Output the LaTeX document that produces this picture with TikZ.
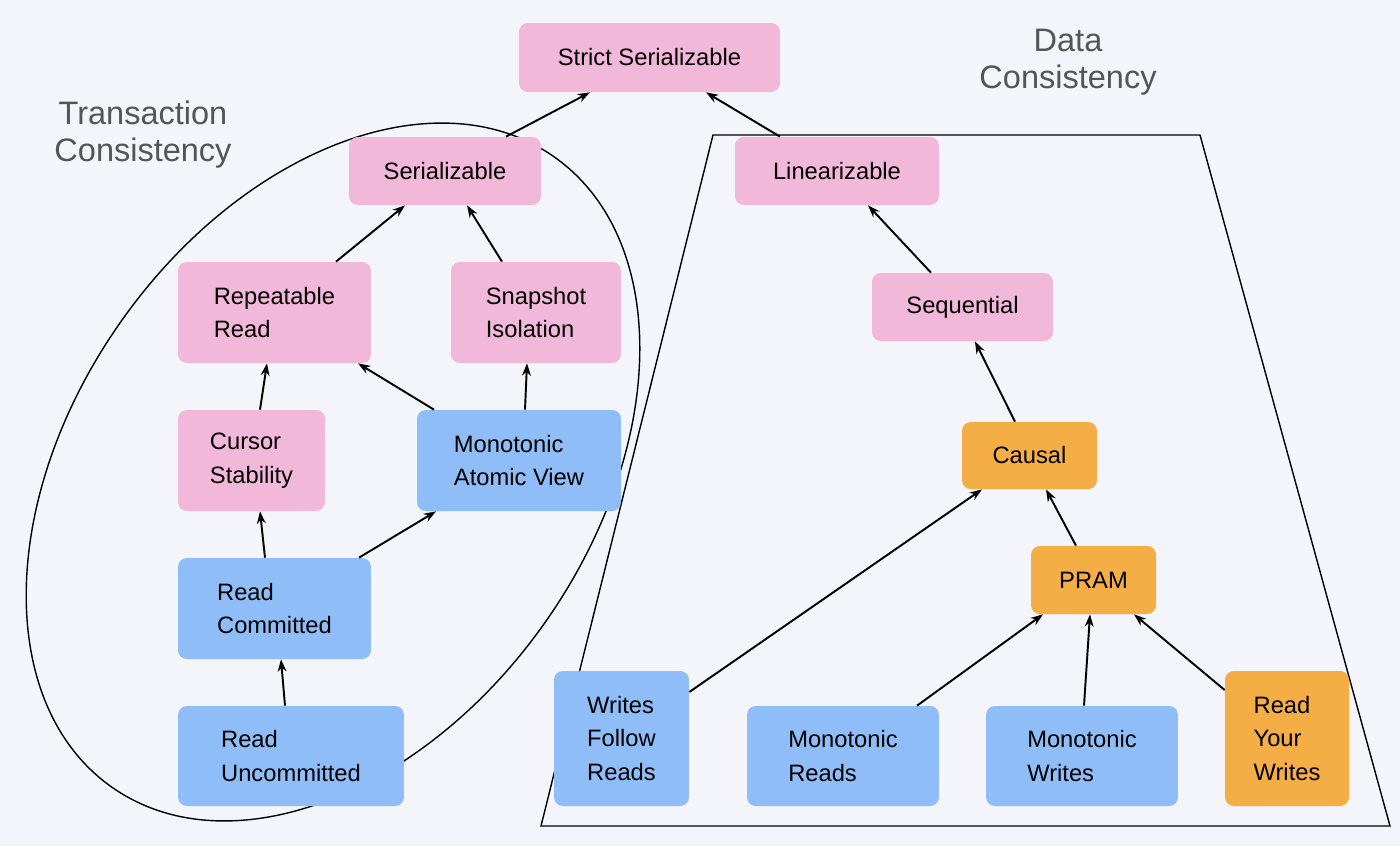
\documentclass[tikz,border=0pt]{standalone}
\usepackage{fontspec}
\setmainfont{Liberation Sans}
\usetikzlibrary{calc,arrows.meta}
\definecolor{bg}{HTML}{F4F5FA}
\definecolor{pk}{HTML}{F2B8DA}
\definecolor{bl}{HTML}{8FBDF7}
\definecolor{or}{HTML}{F4AE45}
\definecolor{lbl}{HTML}{555555}
\begin{document}
\begin{tikzpicture}[x=0.02cm,y=-0.02cm,
  box/.style={rounded corners=5pt,inner sep=0pt,align=left,font=\fontsize{13.5}{19}\selectfont,text=black},
  p/.style={box,fill=pk},b/.style={box,fill=bl},o/.style={box,fill=or},
  ar/.style={-{Stealth[length=7pt,width=5pt]},line width=1.1pt},
  lab/.style={font=\fontsize{18.5}{21}\selectfont,text=lbl,align=center}]
\useasboundingbox[fill=bg] (0,0) rectangle (1400,846);
\draw[line width=0.8pt,rotate around={55:(333,472)}] (333,472) ellipse [x radius=385, y radius=260];
\draw[line width=0.8pt] (713,135) -- (1200,135) -- (1390,826) -- (541,826) -- cycle;
\node[lab] (tc) at (143,135) {Transaction\\Consistency};
\node[lab] (dc) at (1068,62) {Data\\Consistency};
\node[p,minimum width=5.22cm,minimum height=1.38cm] (ss) at (649.5,57.5) {Strict Serializable};
\node[p,minimum width=3.84cm,minimum height=1.36cm] (ser) at (445,171) {Serializable};
\node[p,minimum width=4.08cm,minimum height=1.36cm] (lin) at (837,171) {Linearizable};
\node[p,minimum width=3.86cm,minimum height=2.02cm] (rr) at (274.5,312.5) {Repeatable\\Read};
\node[p,minimum width=3.4cm,minimum height=2.02cm] (si) at (536,312.5) {Snapshot\\Isolation};
\node[p,minimum width=3.62cm,minimum height=1.36cm] (seq) at (962.5,307) {Sequential};
\node[p,minimum width=2.94cm,minimum height=2.02cm] (cs) at (251.5,460.5) {Cursor\\Stability};
\node[b,minimum width=4.08cm,minimum height=2.02cm] (mav) at (519,460.5) {Monotonic\\Atomic View};
\node[o,minimum width=2.7cm,minimum height=1.34cm] (cau) at (1029.5,455.5) {Causal};
\node[b,minimum width=3.86cm,minimum height=2.02cm] (rc) at (274.5,608.5) {Read\\Committed};
\node[o,minimum width=2.5cm,minimum height=1.36cm] (pram) at (1093.5,580) {PRAM};
\node[b,minimum width=4.52cm,minimum height=2.0cm] (ru) at (291,756) {Read\\Uncommitted};
\node[b,minimum width=2.7cm,minimum height=2.7cm] (wfr) at (621.5,738.5) {Writes\\Follow\\Reads};
\node[b,minimum width=3.84cm,minimum height=2.0cm] (mr) at (843,756) {Monotonic\\Reads};
\node[b,minimum width=3.84cm,minimum height=2.0cm] (mw) at (1082,756) {Monotonic\\Writes};
\node[o,minimum width=2.48cm,minimum height=2.7cm] (ryw) at (1287,738.5) {Read\\Your\\Writes};
\draw[ar] ($(ser.north)+(61,0)$) -- ($(ss.south)+(-59.5,0)$);
\draw[ar] ($(lin.north)+(-57,0)$) -- ($(ss.south)+(56.5,0)$);
\draw[ar] ($(rr.north)+(61.5,0)$) -- ($(ser.south)+(-40,0)$);
\draw[ar] ($(si.north)+(-34,0)$) -- ($(ser.south)+(22,0)$);
\draw[ar] ($(seq.north)+(-31.5,0)$) -- ($(lin.south)+(31,0)$);
\draw[ar] ($(cs.north)+(8.5,0)$) -- ($(rr.south)+(-7.5,0)$);
\draw[ar] ($(mav.north)+(-85,0)$) -- ($(rr.south)+(83.5,0)$);
\draw[ar] ($(mav.north)+(6,0)$) -- ($(si.south)+(-9,0)$);
\draw[ar] ($(cau.north)+(-14.5,0)$) -- ($(seq.south)+(12.5,0)$);
\draw[ar] ($(rc.north)+(-9.5,0)$) -- ($(cs.south)+(8.5,0)$);
\draw[ar] ($(rc.north)+(84.5,0)$) -- ($(mav.south)+(-83,0)$);
\draw[ar] ($(pram.north)+(-17.5,0)$) -- ($(cau.south)+(16.5,0)$);
\draw[ar] ($(ru.north)+(-6,0)$) -- ($(rc.south)+(6.5,0)$);
\draw[ar] ($(wfr.east)+(0,-46.5)$) -- ($(cau.south)+(-47.5,0)$);
\draw[ar] ($(mr.north)+(74,0)$) -- ($(pram.south)+(-50.5,0)$);
\draw[ar] ($(mw.north)+(2,0)$) -- ($(pram.south)+(-3.5,0)$);
\draw[ar] ($(ryw.west)+(0,-48.5)$) -- ($(pram.south)+(40.5,0)$);
\end{tikzpicture}
\end{document}
